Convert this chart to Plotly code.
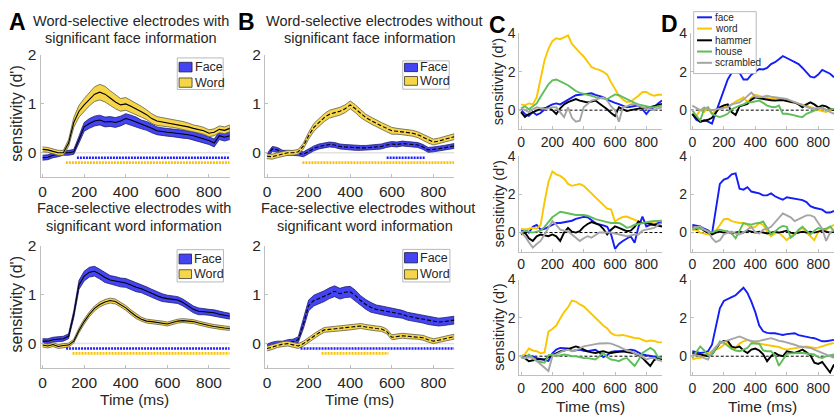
import plotly.graph_objects as go

W, H = 837, 416
FONT = "Liberation Sans, Arial, Helvetica, sans-serif"
TXT = "#262626"
AXC = "#BFBFBF"

# ---------------- data ----------------
t = list(range(0, 901, 25))  # time (ms)

# Panel A (top): word-selective electrodes with significant face information
a1_face = [-0.10,-0.09,-0.05,-0.03,0.00,0.00,0.02,0.27,0.53,0.60,0.65,0.67,0.63,0.64,0.62,0.65,0.70,0.67,0.63,0.58,0.55,0.50,0.45,0.43,0.42,0.41,0.40,0.38,0.37,0.35,0.32,0.28,0.25,0.20,0.35,0.32,0.35]
a1_face_sem = [0.05,0.05,0.05,0.05,0.05,0.05,0.05,0.07,0.09,0.10,0.10,0.10,0.10,0.10,0.10,0.10,0.10,0.10,0.10,0.09,0.09,0.09,0.08,0.08,0.08,0.08,0.08,0.08,0.08,0.08,0.08,0.08,0.08,0.08,0.08,0.08,0.08]
a1_word = [0.07,0.06,0.03,0.00,0.00,0.20,0.62,0.85,0.98,1.10,1.20,1.24,1.20,1.12,1.04,0.98,1.00,0.95,0.90,0.84,0.78,0.70,0.65,0.63,0.62,0.60,0.58,0.56,0.53,0.50,0.48,0.45,0.40,0.42,0.48,0.46,0.50]
a1_word_sem = [0.05,0.05,0.05,0.05,0.05,0.07,0.10,0.12,0.13,0.14,0.15,0.16,0.16,0.15,0.14,0.13,0.13,0.12,0.12,0.11,0.10,0.10,0.09,0.09,0.09,0.08,0.08,0.08,0.08,0.07,0.07,0.07,0.07,0.07,0.07,0.07,0.07]
a1_sig_face = [165, 900]
a1_sig_word = [112, 900]

# Panel A (bottom): face-selective electrodes with significant word information
a2_face = [0.05,0.05,0.08,0.09,0.10,0.15,0.60,1.20,1.38,1.46,1.48,1.42,1.35,1.30,1.28,1.25,1.24,1.20,1.15,1.12,1.08,1.03,0.98,0.94,0.92,0.90,0.89,0.84,0.77,0.70,0.66,0.65,0.64,0.63,0.60,0.58,0.56]
a2_face_sem = [0.05,0.05,0.05,0.05,0.05,0.05,0.07,0.09,0.10,0.10,0.10,0.10,0.10,0.09,0.09,0.09,0.09,0.09,0.09,0.08,0.08,0.08,0.08,0.08,0.07,0.07,0.07,0.07,0.07,0.07,0.07,0.06,0.06,0.06,0.06,0.06,0.06]
a2_word = [-0.03,-0.05,-0.02,-0.06,-0.04,-0.03,0.05,0.27,0.45,0.60,0.72,0.80,0.85,0.88,0.86,0.80,0.73,0.64,0.56,0.50,0.46,0.45,0.43,0.42,0.40,0.43,0.46,0.47,0.46,0.45,0.42,0.39,0.37,0.35,0.33,0.32,0.31]
a2_word_sem = [0.04,0.04,0.04,0.04,0.04,0.04,0.04,0.05,0.05,0.05,0.05,0.05,0.05,0.05,0.05,0.05,0.05,0.05,0.05,0.04,0.04,0.04,0.04,0.04,0.04,0.04,0.04,0.04,0.04,0.04,0.04,0.04,0.04,0.04,0.04,0.04,0.04]
a2_sig_face = [113, 900]
a2_sig_word = [144, 900]

# Panel B (top): word-selective electrodes without significant face information
b1_face = [-0.07,0.08,0.06,0.00,0.00,0.00,-0.01,-0.03,0.03,0.09,0.13,0.15,0.17,0.16,0.13,0.12,0.11,0.10,0.10,0.10,0.11,0.12,0.13,0.16,0.18,0.17,0.19,0.18,0.17,0.16,0.12,0.06,0.07,0.08,0.10,0.12,0.14]
b1_face_sem = [0.05,0.05,0.05,0.05,0.05,0.05,0.05,0.05,0.05,0.05,0.05,0.05,0.05,0.05,0.05,0.05,0.05,0.05,0.05,0.05,0.05,0.05,0.05,0.05,0.05,0.05,0.05,0.05,0.05,0.05,0.05,0.05,0.05,0.05,0.05,0.05,0.05]
b1_word = [-0.07,-0.08,-0.05,-0.02,0.00,0.00,0.02,0.14,0.35,0.52,0.63,0.72,0.79,0.82,0.85,0.90,0.98,0.90,0.80,0.72,0.66,0.60,0.55,0.50,0.45,0.44,0.43,0.42,0.40,0.37,0.32,0.26,0.22,0.24,0.27,0.30,0.33]
b1_word_sem = [0.05,0.05,0.05,0.05,0.05,0.05,0.05,0.06,0.07,0.08,0.08,0.08,0.08,0.08,0.08,0.08,0.08,0.08,0.08,0.07,0.07,0.07,0.07,0.07,0.07,0.06,0.06,0.06,0.06,0.06,0.06,0.06,0.06,0.06,0.06,0.06,0.06]
b1_sig_face = [575, 760]
b1_sig_word = [170, 900]

# Panel B (bottom): face-selective electrodes without significant word information
b2_face = [-0.06,-0.02,0.00,0.00,0.03,0.04,0.08,0.40,0.78,0.88,0.92,0.97,1.03,1.07,1.02,1.05,1.06,0.98,0.88,0.80,0.74,0.70,0.68,0.66,0.64,0.62,0.60,0.56,0.54,0.52,0.50,0.47,0.45,0.44,0.45,0.46,0.48]
b2_face_sem = [0.05,0.05,0.05,0.05,0.05,0.05,0.06,0.09,0.11,0.11,0.11,0.11,0.11,0.11,0.11,0.11,0.11,0.11,0.10,0.10,0.10,0.09,0.09,0.09,0.09,0.09,0.08,0.08,0.08,0.08,0.08,0.08,0.08,0.08,0.08,0.08,0.08]
b2_word = [-0.10,-0.07,-0.03,-0.01,0.00,-0.03,-0.05,0.00,0.08,0.15,0.22,0.28,0.29,0.30,0.31,0.32,0.33,0.34,0.36,0.34,0.32,0.31,0.30,0.25,0.13,0.15,0.16,0.15,0.14,0.14,0.12,0.08,0.05,0.07,0.10,0.12,0.14]
b2_word_sem = [0.05,0.05,0.05,0.05,0.05,0.05,0.05,0.05,0.05,0.05,0.05,0.05,0.05,0.05,0.05,0.05,0.05,0.05,0.05,0.05,0.05,0.05,0.05,0.05,0.05,0.05,0.05,0.05,0.05,0.05,0.05,0.05,0.05,0.05,0.05,0.05,0.05]
b2_sig_face = [161, 900]
b2_sig_word = [262, 584]

# Panels C / D: single electrodes, 5 categories
categories = ["face", "word", "hammer", "house", "scrambled"]

c1_face = [0.00,-0.20,-0.30,-0.10,-0.25,-0.15,0.05,0.20,0.30,0.35,0.30,0.42,0.55,0.70,0.78,0.80,0.82,0.85,0.88,0.80,0.75,0.68,0.55,0.45,0.38,0.32,0.25,0.15,0.18,0.22,0.25,0.05,-0.20,0.05,0.15,0.35,0.50]
c1_word = [0.30,0.25,0.35,0.30,0.67,1.70,2.60,3.20,3.60,3.75,3.70,3.80,3.90,3.45,3.20,3.00,2.80,2.50,2.25,2.15,2.10,2.00,1.85,1.45,1.10,0.75,0.55,0.42,0.45,0.60,0.75,0.95,0.95,0.82,0.75,0.80,0.80]
c1_hammer = [-0.10,-0.35,-0.20,-0.10,0.00,0.07,0.10,0.15,0.00,-0.20,0.10,0.30,0.42,0.50,0.58,0.50,0.45,0.40,0.45,0.50,0.35,0.20,0.05,-0.15,-0.30,0.15,0.05,-0.05,0.00,0.05,0.07,0.12,0.10,0.15,0.20,0.28,0.32]
c1_house = [0.10,0.20,0.05,0.20,0.35,0.70,1.05,1.35,1.55,1.60,1.50,1.42,1.30,1.15,1.00,0.90,0.85,0.82,0.75,0.68,0.62,0.60,0.58,0.70,0.82,0.78,0.68,0.55,0.45,0.38,0.30,0.25,0.20,0.15,0.15,0.22,0.25]
c1_scrambled = [0.10,0.00,-0.10,0.05,0.15,0.10,0.07,0.10,0.15,0.15,-0.10,-0.36,0.15,-0.40,-0.60,-0.55,0.15,0.35,0.50,0.55,0.60,0.67,0.50,0.20,0.00,-0.60,0.15,0.20,0.30,0.32,0.25,0.15,0.10,0.05,0.00,0.10,0.15]

c2_face = [0.10,0.15,0.00,0.30,0.40,0.15,0.20,0.30,0.40,0.50,0.50,0.55,0.58,0.62,0.72,0.78,0.82,0.80,0.65,0.50,0.42,0.38,0.30,-0.10,-0.85,-0.60,-0.44,-0.30,-0.19,-0.53,0.30,0.84,0.32,0.40,0.41,0.50,0.58]
c2_word = [0.20,0.15,0.20,0.25,0.20,0.40,1.60,2.65,3.20,3.05,2.97,2.82,2.55,2.45,2.50,2.55,2.45,2.25,2.05,1.85,1.62,1.40,1.25,1.20,0.58,0.72,0.82,0.84,0.75,0.67,0.60,0.50,0.50,0.55,0.58,0.60,0.62]
c2_hammer = [-0.10,0.00,-0.30,-0.44,-0.20,-0.10,-0.15,-0.19,-0.10,-0.20,-0.44,0.00,0.24,0.05,0.00,0.07,0.30,0.45,0.55,0.50,0.41,0.20,-0.10,0.15,0.32,0.24,0.15,0.07,0.10,0.30,0.58,0.50,0.50,0.45,0.41,0.35,0.32]
c2_house = [0.00,0.10,0.05,0.00,0.05,0.10,0.30,0.55,0.80,0.95,1.09,1.05,1.00,0.95,0.92,0.92,0.92,0.88,0.78,0.70,0.65,0.58,0.55,0.50,0.50,0.50,0.40,0.25,0.30,0.41,0.45,0.50,0.52,0.58,0.60,0.62,0.62]
c2_scrambled = [0.00,-0.19,-0.50,-0.79,-0.60,-0.44,-0.10,0.24,0.60,0.40,0.15,0.10,0.07,-0.10,-0.25,-0.44,-0.30,-0.19,-0.27,-0.15,0.00,0.00,0.00,0.00,-0.05,-0.10,-0.12,-0.19,-0.15,-0.10,-0.10,0.10,0.15,0.20,0.24,0.40,0.50]

c3_face = [0.00,0.05,-0.05,0.00,-0.10,-0.15,-0.20,-0.25,0.15,0.35,0.43,0.43,0.40,0.28,0.30,0.34,0.28,0.26,0.30,0.34,0.20,-0.05,0.05,0.22,0.26,0.25,0.26,0.30,0.34,0.30,0.20,0.09,0.05,0.02,0.00,-0.05,-0.09]
c3_word = [0.00,0.10,0.40,0.30,0.26,0.15,0.20,1.28,1.42,1.60,1.97,2.30,2.55,2.90,2.85,2.70,2.60,2.40,2.20,2.00,1.75,1.60,1.45,1.20,1.10,1.08,1.11,1.05,0.98,0.95,0.94,0.85,0.77,0.82,0.80,0.72,0.72]
c3_hammer = [-0.05,-0.10,-0.26,-0.20,-0.17,-0.15,-0.17,-0.05,0.05,0.17,0.25,0.30,0.36,0.45,0.51,0.45,0.34,0.25,0.20,0.17,0.22,0.26,0.20,0.17,0.20,0.25,0.26,0.22,0.17,0.15,0.05,-0.09,-0.30,-0.51,-0.20,-0.09,-0.17]
c3_house = [-0.05,-0.10,0.09,-0.10,-0.26,-0.30,-0.34,0.05,0.09,0.00,0.05,0.09,0.05,0.00,0.00,-0.05,-0.09,-0.10,-0.12,-0.17,0.00,0.17,-0.05,-0.17,-0.20,-0.26,-0.15,-0.09,-0.30,-0.51,-0.20,0.17,0.30,0.43,0.30,-0.05,-0.09]
c3_scrambled = [-0.05,-0.09,-0.05,-0.09,-0.25,-0.43,-0.60,-0.77,0.00,0.10,0.17,0.30,0.34,0.26,0.30,0.40,0.51,0.55,0.60,0.63,0.66,0.68,0.68,0.66,0.60,0.50,0.40,0.30,0.26,0.15,0.09,-0.05,-0.17,-0.10,-0.09,-0.20,-0.26]

d1_face = [-0.20,-0.50,-0.60,-0.53,-0.60,-0.70,-0.10,0.45,1.05,1.60,1.95,2.00,1.95,1.60,1.60,1.85,2.00,2.15,2.12,2.20,2.40,2.50,2.65,2.82,2.72,2.62,2.50,2.40,2.20,1.95,1.75,1.70,1.86,2.10,2.00,1.90,1.72]
d1_word = [-0.20,-0.30,0.00,-0.10,0.10,-0.20,0.00,0.05,0.15,0.20,0.30,0.45,0.55,0.67,0.42,0.65,0.80,0.75,0.70,0.65,0.58,0.60,0.58,0.55,0.50,0.41,0.38,0.33,0.30,0.25,0.15,0.10,0.00,-0.05,-0.10,0.00,0.07]
d1_hammer = [-0.20,-0.40,-0.60,-0.55,-0.50,-0.40,-0.10,0.15,0.25,0.30,-0.10,-0.25,0.20,0.25,0.32,0.55,0.67,0.62,0.58,0.55,0.52,0.50,0.52,0.53,0.48,0.45,0.40,0.30,0.15,0.30,0.41,0.30,0.15,0.24,0.20,0.07,0.00]
d1_house = [0.00,-0.30,-0.53,0.05,0.15,-0.19,-0.30,-0.36,-0.28,-0.19,0.05,0.15,0.24,0.30,0.41,0.41,0.45,0.50,0.38,0.24,0.18,0.15,0.24,-0.19,-0.19,-0.22,-0.27,-0.33,-0.36,-0.19,-0.10,-0.02,0.05,0.15,0.00,0.05,0.07]
d1_scrambled = [0.24,0.10,0.00,0.15,0.05,0.00,0.05,0.07,0.12,0.15,0.30,0.35,0.41,0.55,0.75,0.92,0.70,0.67,0.70,0.75,0.70,0.67,0.65,0.60,0.58,0.50,0.42,0.35,0.25,0.15,0.10,0.07,0.12,0.10,0.00,-0.10,-0.19]

d2_face = [0.40,0.35,0.32,0.20,0.12,-0.07,1.20,2.55,2.78,2.85,3.05,3.10,2.30,2.25,2.38,2.15,2.10,2.05,1.95,1.95,2.05,1.90,1.80,1.72,1.85,1.82,1.78,1.75,1.70,1.60,1.38,1.30,1.25,1.20,1.05,1.05,1.13]
d2_word = [0.15,0.15,0.00,-0.05,-0.10,-0.10,0.10,0.40,0.70,0.72,0.60,0.55,0.50,0.50,0.40,0.25,0.30,0.50,0.40,0.05,-0.19,-0.05,0.00,-0.20,-0.40,-0.20,-0.10,0.10,0.24,0.00,-0.20,-0.40,0.05,0.15,0.15,0.30,0.41]
d2_hammer = [0.30,0.20,0.25,0.10,0.00,-0.10,0.00,0.05,0.00,0.05,-0.05,0.00,0.05,0.00,0.10,0.05,0.00,0.05,0.00,-0.05,0.00,0.05,0.00,0.05,0.10,0.00,-0.05,0.00,0.05,0.00,0.05,0.00,0.05,0.10,0.05,0.00,0.05]
d2_house = [0.15,0.24,0.20,0.15,0.05,0.00,0.10,0.15,0.10,0.05,-0.05,-0.30,0.10,0.50,0.45,0.41,0.48,0.50,0.58,0.20,-0.10,0.05,0.24,0.35,0.30,-0.27,-0.10,0.15,0.30,0.10,-0.10,0.10,0.24,0.18,0.20,0.32,0.07]
d2_scrambled = [0.24,0.28,0.32,0.15,0.07,-0.30,-0.50,-0.40,-0.10,0.00,0.05,-0.05,-0.10,0.00,0.15,0.30,0.00,-0.05,0.15,0.20,0.30,0.55,0.75,1.00,0.90,0.80,0.60,0.70,0.84,0.90,0.90,0.82,0.50,0.20,-0.44,0.00,0.15]

d3_face = [0.26,0.20,0.17,0.20,0.26,0.60,1.50,2.50,2.88,3.00,3.08,3.18,3.40,3.57,3.30,2.85,2.30,1.60,1.30,1.22,1.20,1.20,1.15,1.11,1.15,1.18,1.20,1.10,1.05,1.00,0.97,0.94,0.88,0.78,0.78,0.82,0.85]
d3_word = [-0.17,-0.10,-0.09,0.05,0.15,0.26,0.35,0.43,0.60,0.72,0.40,0.45,0.66,0.78,0.85,0.75,0.68,0.65,0.62,0.60,0.55,0.52,0.48,0.40,0.34,0.38,0.43,0.45,0.48,0.51,0.47,0.43,0.45,0.52,0.60,0.65,0.68]
d3_hammer = [0.17,0.10,0.09,0.05,0.00,0.10,0.40,0.68,0.80,0.80,0.50,0.45,0.50,0.30,0.17,0.35,0.40,0.30,0.10,-0.26,0.00,0.17,0.05,0.00,0.26,0.20,0.17,0.25,0.34,0.20,0.05,-0.34,-0.40,-0.30,-0.55,-0.85,-0.43]
d3_house = [-0.09,0.20,0.51,0.30,0.05,0.10,0.40,0.77,0.70,0.55,0.38,0.30,0.26,0.35,0.43,0.68,0.68,0.65,0.30,0.26,0.26,0.05,-0.50,-0.20,0.12,0.15,0.17,0.17,0.17,0.15,0.10,0.09,-0.05,-0.09,0.00,0.05,0.09]
d3_scrambled = [0.09,0.05,0.00,-0.10,-0.17,0.25,0.50,0.68,0.75,0.85,0.92,1.00,1.03,0.95,0.85,0.80,0.77,0.80,0.85,0.90,0.94,0.88,0.80,0.77,0.72,0.68,0.60,0.52,0.50,0.45,0.43,0.35,0.26,0.18,0.09,0.00,-0.09]

xticks = [0, 200, 400, 600, 800]
ab_yticks = [0, 1, 2]
cd_yticks = [0, 2, 4]

# ---------------- styles ----------------
BLUE_FILL = "rgb(68,68,242)"
BLUE_EDGE = "rgb(30,30,110)"
YEL_FILL = "rgb(246,214,72)"
YEL_EDGE = "rgb(95,95,80)"
SIG_BLUE = "rgb(30,30,255)"
SIG_YEL = "rgb(250,195,0)"
CAT_COLORS = {"face": "rgb(20,30,245)", "word": "rgb(250,198,0)", "hammer": "rgb(0,0,0)",
              "house": "rgb(95,190,90)", "scrambled": "rgb(165,165,165)"}

fig = go.Figure()

# subplot boxes in pixels (x0, x1, y0, y1)
boxes = [
    ("A1", 38.6, 228.3, 47, 172, "ab"),
    ("A2", 38.6, 228.3, 242, 367, "ab"),
    ("B1", 263.6, 453.3, 47, 172, "ab"),
    ("B2", 263.6, 453.3, 242, 367, "ab"),
    ("C1", 518.7, 661.6, 25, 123, "cd"),
    ("C2", 518.7, 661.6, 150.5, 248, "cd"),
    ("C3", 518.7, 661.6, 276.5, 374.5, "cd"),
    ("D1", 690.4, 834.0, 25, 123, "cd"),
    ("D2", 690.4, 834.0, 150.5, 248, "cd"),
    ("D3", 690.4, 834.0, 276.5, 374.5, "cd"),
]
idx = {b[0]: i + 1 for i, b in enumerate(boxes)}

layout = dict(width=W, height=H, margin=dict(l=0, r=0, t=0, b=0), autosize=False,
              paper_bgcolor="white", plot_bgcolor="white", showlegend=False,
              font=dict(family=FONT, color=TXT))
for i, (name, x0, x1, y0, y1, kind) in enumerate(boxes, start=1):
    s = "" if i == 1 else str(i)
    fs = 15.5 if kind == "ab" else 14
    layout["xaxis" + s] = dict(domain=[x0 / W, x1 / W], anchor="y" + s, range=[-10, 900],
                               tickvals=xticks, ticks="inside", ticklen=3, tickcolor=AXC,
                               showline=True, linecolor=AXC, linewidth=1, showgrid=False,
                               zeroline=False, tickfont=dict(size=fs, color=TXT, family=FONT))
    layout["yaxis" + s] = dict(domain=[1 - y1 / H, 1 - y0 / H], anchor="x" + s,
                               range=[-0.5, 2] if kind == "ab" else [-1, 4],
                               tickvals=ab_yticks if kind == "ab" else cd_yticks,
                               ticks="inside", ticklen=3, tickcolor=AXC,
                               showline=True, linecolor=AXC, linewidth=1, showgrid=False,
                               zeroline=False, tickfont=dict(size=fs, color=TXT, family=FONT))
fig.update_layout(**layout)

def ax(name):
    i = idx[name]
    s = "" if i == 1 else str(i)
    return "x" + s, "y" + s

shapes = []
annotations = []

def band(name, mean, sem, fill, edge, dashed):
    assert len(mean) == len(t) and len(sem) == len(t), name
    xa, ya = ax(name)
    up = [m + e for m, e in zip(mean, sem)]
    lo = [m - e for m, e in zip(mean, sem)]
    fig.add_trace(go.Scatter(x=t + t[::-1], y=up + lo[::-1], fill="toself", fillcolor=fill,
                             mode="lines", line=dict(color=edge, width=0.8),
                             hoverinfo="skip", xaxis=xa, yaxis=ya))
    fig.add_trace(go.Scatter(x=t, y=mean, mode="lines",
                             line=dict(color="black", width=1.1, dash="4px,2px" if dashed else "solid"),
                             xaxis=xa, yaxis=ya))

def sig(name, span, level, color):
    xa, ya = ax(name)
    fig.add_trace(go.Scatter(x=span, y=[level, level], mode="lines",
                             line=dict(color=color, width=2.6, dash="2px,1px"),
                             xaxis=xa, yaxis=ya))

ab_sets = [
    ("A1", a1_face, a1_face_sem, a1_word, a1_word_sem, a1_sig_face, a1_sig_word, False),
    ("A2", a2_face, a2_face_sem, a2_word, a2_word_sem, a2_sig_face, a2_sig_word, False),
    ("B1", b1_face, b1_face_sem, b1_word, b1_word_sem, b1_sig_face, b1_sig_word, True),
    ("B2", b2_face, b2_face_sem, b2_word, b2_word_sem, b2_sig_face, b2_sig_word, True),
]
for name, fm, fsem, wm, wsem, sf, sw, dashed in ab_sets:
    xa, ya = ax(name)
    shapes.append(dict(type="line", xref=xa + " domain", x0=0, x1=1, yref=ya, y0=0, y1=0,
                       line=dict(color="#E2E2E2", width=1.5), layer="below"))
    band(name, fm, fsem, BLUE_FILL, BLUE_EDGE, dashed)
    band(name, wm, wsem, YEL_FILL, YEL_EDGE, dashed)
    sig(name, sf, -0.1, SIG_BLUE)
    sig(name, sw, -0.2, SIG_YEL)

cd_sets = {
    "C1": [c1_face, c1_word, c1_hammer, c1_house, c1_scrambled],
    "C2": [c2_face, c2_word, c2_hammer, c2_house, c2_scrambled],
    "C3": [c3_face, c3_word, c3_hammer, c3_house, c3_scrambled],
    "D1": [d1_face, d1_word, d1_hammer, d1_house, d1_scrambled],
    "D2": [d2_face, d2_word, d2_hammer, d2_house, d2_scrambled],
    "D3": [d3_face, d3_word, d3_hammer, d3_house, d3_scrambled],
}
for name, series in cd_sets.items():
    xa, ya = ax(name)
    shapes.append(dict(type="line", xref=xa + " domain", x0=0, x1=1, yref=ya, y0=0, y1=0,
                       line=dict(color="black", width=1, dash="3px,2px"), layer="below"))
    for cat, vals in zip(categories, series):
        assert len(vals) == len(t), (name, cat)
        fig.add_trace(go.Scatter(x=t, y=vals, mode="lines", name=cat,
                                 line=dict(color=CAT_COLORS[cat], width=1.9),
                                 xaxis=xa, yaxis=ya))

# ---------------- text ----------------
def P(x, y):
    return x / W, 1 - y / H

def text(s, x, y, size, xanchor="center", bold=False, angle=0):
    px, py = P(x, y)
    annotations.append(dict(text=("<b>%s</b>" % s) if bold else s, x=px, y=py, xref="paper",
                            yref="paper", xanchor=xanchor, yanchor="middle", showarrow=False,
                            textangle=angle, font=dict(size=size, color=TXT if not bold else "black",
                                                       family=FONT)))

# panel letters
text("A", 16, 13, 23, bold=True)
text("B", 245, 13, 23, bold=True)
text("C", 497, 16, 23, bold=True)
text("D", 669, 15, 23, bold=True)

# titles
text("Word-selective electrodes with", 129, 12, 14.5)
text("significant face information", 129, 29.5, 14.5)
text("Face-selective electrodes with", 132, 203.5, 14.5)
text("significant word information", 132, 221.5, 14.5)
text("Word-selective electrodes without", 373, 12, 14.5)
text("significant face information", 369, 29.5, 14.5)
text("Face-selective electrodes without", 367, 203.5, 14.5)
text("significant word information", 364, 221.5, 14.5)

# axis titles
text("sensitivity (d')", 15, 107, 16, angle=-90)
text("sensitivity (d')", 15, 302, 16, angle=-90)
for yc in (74, 199, 325):
    text("sensitivity (d')", 498, yc, 14.5, angle=-90)
text("Time (ms)", 133, 399, 15.5)
text("Time (ms)", 358, 399, 15.5)
text("Time (ms)", 590, 406.5, 15.5)
text("Time (ms)", 762, 406.5, 15.5)

# ---------------- legends ----------------
def rect(x0, y0, x1, y1, fill, line, width=0.8):
    a, b = P(x0, y0)
    c, d = P(x1, y1)
    shapes.append(dict(type="rect", xref="paper", yref="paper", x0=a, y0=d, x1=c, y1=b,
                       fillcolor=fill, line=dict(color=line, width=width), layer="above"))

def fw_legend(bx0, by0, bx1, by1, px0, px1, rows):
    rect(bx0, by0, bx1, by1, "white", "#A8A8A8")
    for (py0, py1, fill, edge, label) in rows:
        rect(px0, py0, px1, py1, fill, edge, 0.8)
        text(label, px1 + 0.5, (py0 + py1) / 2, 12.5, xanchor="left")

fw_legend(175.7, 50, 221.7, 82.3, 177.5, 190.5,
          [(54.5, 64.3, BLUE_FILL, "#1a1a40", "Face"), (70.5, 80, YEL_FILL, "#3a3a30", "Word")])
fw_legend(175.5, 246, 222, 279, 177.5, 190,
          [(250.5, 260.5, BLUE_FILL, "#1a1a40", "Face"), (266.5, 275.5, YEL_FILL, "#3a3a30", "Word")])
fw_legend(401.7, 53, 448.3, 82, 403.5, 416.5,
          [(55.5, 64, BLUE_FILL, "#1a1a40", "Face"), (69, 78, YEL_FILL, "#3a3a30", "Word")])
fw_legend(401.7, 245.7, 449, 279, 403.5, 416.5,
          [(249, 259.5, BLUE_FILL, "#1a1a40", "Face"), (266.5, 276, YEL_FILL, "#3a3a30", "Word")])

# category legend (panel D top)
rect(693.3, 2.7, 756, 66, "white", "#A8A8A8")
for cat, yy in zip(categories, [8.5, 20, 32, 43.5, 55]):
    a, b = P(696.7, yy)
    c, _ = P(711.7, yy)
    shapes.append(dict(type="line", xref="paper", yref="paper", x0=a, x1=c, y0=b, y1=b,
                       line=dict(color=CAT_COLORS[cat], width=2), layer="above"))
    text(cat, 712.5, yy, 10, xanchor="left")

fig.update_layout(shapes=shapes, annotations=annotations)
fig.write_html("out.html",
               config={"displayModeBar": False, "staticPlot": True},
               post_script="document.documentElement.style.margin='0';"
                           "document.body.style.margin='0';document.body.style.padding='0';"
                           "document.body.style.overflow='hidden';")
